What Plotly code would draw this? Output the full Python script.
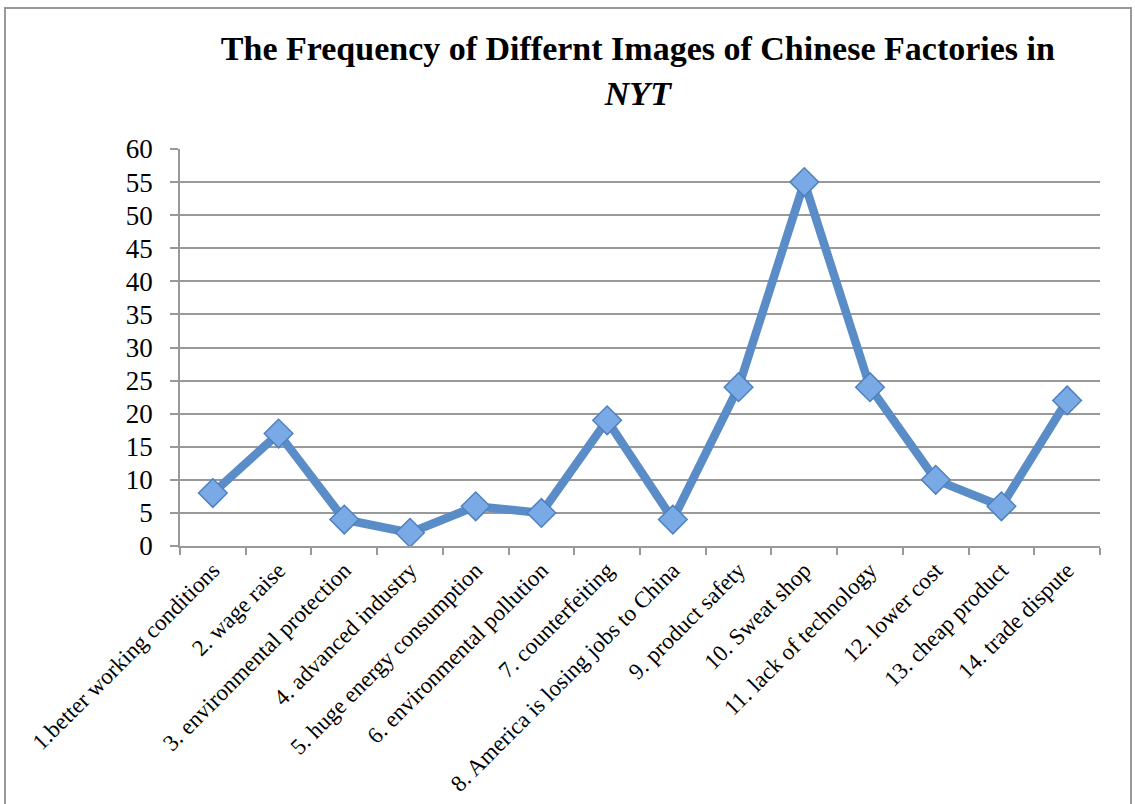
import plotly.graph_objects as go

categories = [
    "1.better working conditions", "2. wage raise", "3. environmental protection",
    "4. advanced industry", "5. huge energy consumption", "6. environmental pollution",
    "7. counterfeiting", "8. America is losing jobs to China", "9. product safety",
    "10. Sweat shop", "11. lack of technology", "12. lower cost",
    "13. cheap product", "14. trade dispute",
]
values = [8, 17, 4, 2, 6, 5, 19, 4, 24, 55, 24, 10, 6, 22]
y_ticks = list(range(0, 61, 5))

serif = "Liberation Serif, DejaVu Serif, serif"

fig = go.Figure()
fig.add_trace(go.Scatter(
    x=categories, y=values, mode="lines+markers",
    line=dict(color="#5a8dc8", width=8.5),
    marker=dict(symbol="diamond", size=22, color="#7aaae6",
                line=dict(color="#4f81bd", width=1.5)),
    showlegend=False, hoverinfo="x+y",
))

fig.update_layout(
    width=1135, height=804,
    margin=dict(l=180, r=35, t=149, b=258),
    paper_bgcolor="white", plot_bgcolor="white",
    title=dict(
        text="<b>The Frequency of Differnt Images of Chinese Factories in<br><i>NYT</i></b>",
        x=0.562, xanchor="center", y=0.925, yanchor="top", yref="container",
        font=dict(family=serif, size=34, color="black"),
    ),
    xaxis=dict(
        type="category", range=[-0.5, 13.5], tickson="boundaries",
        ticks="outside", ticklen=7, automargin=False,
        tickcolor="#999999", tickwidth=1.5,
        showline=True, linecolor="#999999", linewidth=1.5,
        showgrid=False, tickangle=-45,
        tickfont=dict(family=serif, size=23, color="black"),
    ),
    yaxis=dict(
        range=[0, 60], tickvals=y_ticks, ticks="outside", ticklen=8,
        automargin=False,
        tickcolor="#999999", tickwidth=1.5,
        showline=True, linecolor="#999999", linewidth=1.5,
        showgrid=True, gridcolor="#999999", gridwidth=1.5,
        zeroline=False, ticklabelstandoff=12,
        tickfont=dict(family=serif, size=27, color="black"),
    ),
    shapes=[dict(
        type="rect", xref="paper", yref="paper",
        x0=(5 - 180) / 920, x1=(1131 - 180) / 920,
        y0=(546 - 806) / 397, y1=(546 - 8) / 397,
        line=dict(color="#999999", width=2), fillcolor="rgba(0,0,0,0)", layer="below",
    )],
)

fig.write_html("out.html")
